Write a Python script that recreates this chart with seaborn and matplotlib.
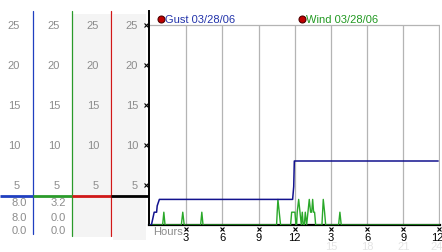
import matplotlib
matplotlib.use("Agg")
import matplotlib.pyplot as plt
import matplotlib.transforms as mtransforms
import seaborn as sns
import pandas as pd

# ---------------- data ----------------
gust_hours = [0, 0.12, 0.35, 0.55, 0.6, 0.78, 11.83, 11.92, 11.97, 23.9]
gust_values = [0, 0, 1.6, 1.6, 2.4, 3.2, 3.2, 4.8, 8.0, 8.0]

wind_hours = [0, 1.05, 1.15, 1.25, 2.6, 2.72, 2.84, 4.2, 4.3, 4.4,
              10.5, 10.55, 10.61, 10.72, 10.83,
              11.66, 11.75, 12.02, 12.11,
              12.16, 12.21, 12.33, 12.44, 12.55, 12.63, 12.71,
              12.80, 12.88, 12.99,
              13.10, 13.21, 13.32, 13.41, 13.49, 13.57, 13.65, 13.74,
              14.26, 14.37, 14.48, 14.57,
              15.64, 15.75, 15.86, 24]
wind_values = [0, 0, 1.6, 0, 0, 1.6, 0, 0, 1.6, 0,
               0, 1.6, 3.2, 1.6, 0,
               0, 1.6, 1.6, 0,
               0, 1.6, 3.2, 1.6, 0, 1.6, 0,
               0, 1.6, 0,
               1.6, 3.2, 1.6, 1.6, 3.2, 1.6, 1.6, 0,
               0, 3.2, 1.6, 0,
               0, 1.6, 0, 0]

y_ticks = [5, 10, 15, 20, 25]
x_ticks = [3, 6, 9, 12, 15, 18, 21, 24]
x_labels = ["3", "6", "9", "12", "3", "6", "9", "12"]
x_labels_24 = ["15", "18", "21", "24"]
legend_labels = ["Gust 03/28/06", "Wind 03/28/06"]
col1_values = ["8.0", "8.0", "0.0"]
col2_values = ["3.2", "0.0", "0.0"]

# ---------------- style ----------------
sns.set_style("white")
plt.rcParams["font.family"] = ["Liberation Sans", "DejaVu Sans"]

W, H = 442, 253
fig = plt.figure(figsize=(W / 100, H / 100), dpi=100)
fig.patch.set_facecolor("white")

# left panel columns (pixel-like x, value y; full figure height)
axl = fig.add_axes([0, 0, 149 / W, 1])
axl.set_xlim(0, 149)
axl.set_ylim((226 - H) / 8, 226 / 8)
axl.axis("off")

def pv(py):
    return (226 - py) / 8

# gray backgrounds
axl.fill_between([73, 110.5], pv(238), pv(15), color="#f4f4f4", lw=0, zorder=0)
axl.fill_between([112.5, 146], pv(241), pv(15), color="#f4f4f4", lw=0, zorder=0)

gray = "#8c8c8c"
for xr in [20, 60, 99, 138]:
    for v in y_ticks:
        axl.text(xr, v, str(v), ha="right", va="center", fontsize=8, color=gray)

# column lines
axl.plot([33, 33], [pv(12), pv(235)], color="#1f3fc0", lw=0.9, zorder=3)
axl.plot([72, 72], [pv(12), pv(237)], color="#2a9a2a", lw=0.9, zorder=3)
axl.plot([111, 111], [pv(12), pv(237)], color="#d01818", lw=0.9, zorder=3)
sep = pv(197)
axl.plot([0, 33], [sep, sep], color="#1f3fc0", lw=2, solid_capstyle="butt", zorder=4)
axl.plot([33, 72], [sep, sep], color="#2a9a2a", lw=2, solid_capstyle="butt", zorder=4)
axl.plot([72, 111], [sep, sep], color="#d01818", lw=2, solid_capstyle="butt", zorder=4)
axl.plot([111, 149], [sep, sep], color="black", lw=2, solid_capstyle="butt", zorder=4)

for val, py in zip(col1_values, [203, 218, 231]):
    axl.text(27, pv(py), val, ha="right", va="center", fontsize=8, color=gray)
for val, py in zip(col2_values, [203, 218, 231]):
    axl.text(66, pv(py), val, ha="right", va="center", fontsize=8, color=gray)

# ---------------- main axes ----------------
ax = fig.add_axes([149 / W, (H - 226) / H, 291 / W, 214 / H])
ax.set_facecolor("none")
ax.set_xlim(-0.08, 24.05)
ax.set_ylim(0, 214 / 8)

ax.axhline(25, color="#b4b4b4", lw=0.9, zorder=1)
ax.vlines(x_ticks, 0, 25, color="#b4b4b4", lw=0.9, zorder=1)

gust_df = pd.DataFrame({"hour": gust_hours, "value": gust_values})
wind_df = pd.DataFrame({"hour": wind_hours, "value": wind_values})
sns.lineplot(data=wind_df, x="hour", y="value", ax=ax, color="#2aa82a",
             lw=1.0, estimator=None, sort=False, zorder=3)
sns.lineplot(data=gust_df, x="hour", y="value", ax=ax, color="#12128e",
             lw=1.1, estimator=None, sort=False, zorder=4)

for s in ["top", "right"]:
    ax.spines[s].set_visible(False)
ax.spines["left"].set_color("black")
ax.spines["left"].set_linewidth(1.4)
ax.spines["bottom"].set_color("black")
ax.spines["bottom"].set_linewidth(1.6)
ax.spines["bottom"].set_zorder(2.5)

ax.set_xlabel("")
ax.set_ylabel("")
ax.set_yticks([])
ax.set_xticks([])

xtr = ax.get_xaxis_transform()
shift_left = mtransforms.ScaledTranslation(-2.5 / 100, 0, fig.dpi_scale_trans)
for i, (xt, lab) in enumerate(zip(x_ticks, x_labels)):
    tr = xtr + shift_left if i == len(x_ticks) - 1 else xtr
    ax.text(xt, -12.5 / 214, lab, transform=tr, ha="center", va="center",
            fontsize=8, color="black", clip_on=False)

# small x-shaped tick markers
ax.plot([-3 / 291] * len(y_ticks), y_ticks, ls="none", marker="x", ms=2.5, mew=0.8,
        color="black", transform=ax.get_yaxis_transform(), clip_on=False)
ax.plot(x_ticks, [-4 / 214] * len(x_ticks), ls="none", marker="x", ms=2.5, mew=0.8,
        color="black", transform=xtr, clip_on=False)

ax.text(0.25, -6 / 214, "Hours", transform=xtr, ha="left",
        va="center", fontsize=8, color=gray)
for i, (xt, lab) in enumerate(zip(x_ticks[4:], x_labels_24)):
    tr = xtr + shift_left if i == len(x_labels_24) - 1 else xtr
    ax.text(xt, -21 / 214, lab, transform=tr, ha="center",
            va="center", fontsize=8, color="#e4e4e4", clip_on=False)

# legend
ly = pv(20)
ax.plot([0.91], [ly], marker="o", ms=5, color="#c00000", mec="#500000", mew=0.8,
        clip_on=False)
ax.text(1.25, ly, legend_labels[0], ha="left", va="center", fontsize=8, color="#2233aa")
ax.plot([12.6], [ly], marker="o", ms=5, color="#c00000", mec="#500000", mew=0.8,
        clip_on=False)
ax.text(12.94, ly, legend_labels[1], ha="left", va="center", fontsize=8, color="#229922")

fig.savefig("out.png", dpi=100)
